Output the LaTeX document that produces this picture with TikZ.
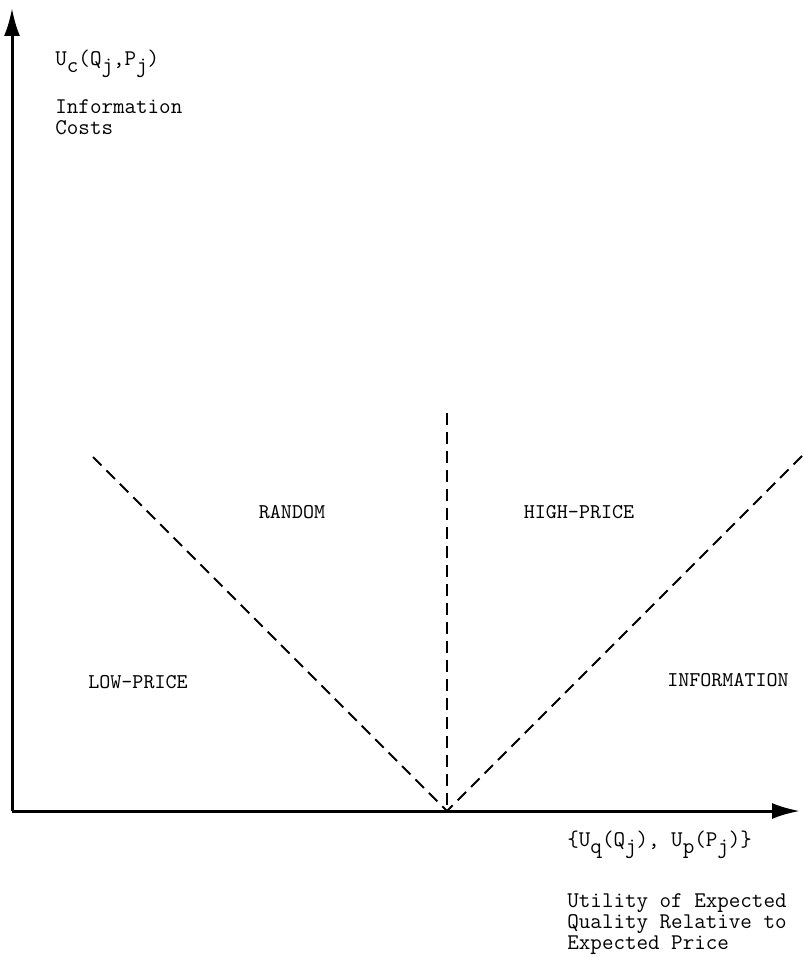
\documentclass[tikz,border=0pt]{standalone}
\usepackage{tikz}
\usetikzlibrary{arrows.meta,positioning}
\newcommand{\lowidx}[1]{\raisebox{-0.75ex}{#1}}

\begin{document}
\begin{tikzpicture}[x=0.5pt, y=-0.5pt]
    \tikzstyle{axis} = [line width=1.5pt, -{Latex[length=14pt, width=8pt]}, draw=black]
    \tikzstyle{bound} = [line width=0.9pt, dash pattern=on 6pt off 3.5pt, draw=black]
    \tikzstyle{region} = [font=\ttfamily\fontsize{10.5}{11}\selectfont, inner sep=0pt]
    \tikzstyle{axlabel} = [font=\ttfamily\fontsize{11.2}{10.6}\selectfont, align=left, inner sep=0pt]

    \useasboundingbox (0,0) rectangle (802,957);

    \coordinate (origin) at (12,811);
    \coordinate (ytop) at (12,8);
    \coordinate (xend) at (800,811);
    \coordinate (kink) at (447,811);
    \coordinate (lowtop) at (93,457);
    \coordinate (midtop) at (447,413);
    \coordinate (infotop) at (802,456);

    \draw [axis] (origin) -- (ytop);
    \draw [axis] (origin) -- (xend);
    \draw [bound] (lowtop) -- (kink);
    \draw [bound] (midtop) -- (kink);
    \draw [bound] (infotop) -- (kink);

    \node [axlabel, anchor=west] (uc) at (55,64) {U\lowidx{c}(Q\lowidx{j},P\lowidx{j})};
    \node [axlabel, below=10.5pt of uc.south west, anchor=north west] (infocost) {Information\\Costs};

    \node [region] (random) at (292,512) {RANDOM};
    \node [region] (highprice) at (579,512) {HIGH-PRICE};
    \node [region] (lowprice) at (138,682) {LOW-PRICE};
    \node [region] (information) at (728,680) {INFORMATION};

    \node [axlabel, anchor=west] (uqp) at (567,845) {\{U\lowidx{q}(Q\lowidx{j}), U\lowidx{p}(P\lowidx{j})\}};
    \node [axlabel, below=17pt of uqp.south west, anchor=north west] (utility) {Utility of Expected\\Quality Relative to\\Expected Price};
\end{tikzpicture}
\end{document}
